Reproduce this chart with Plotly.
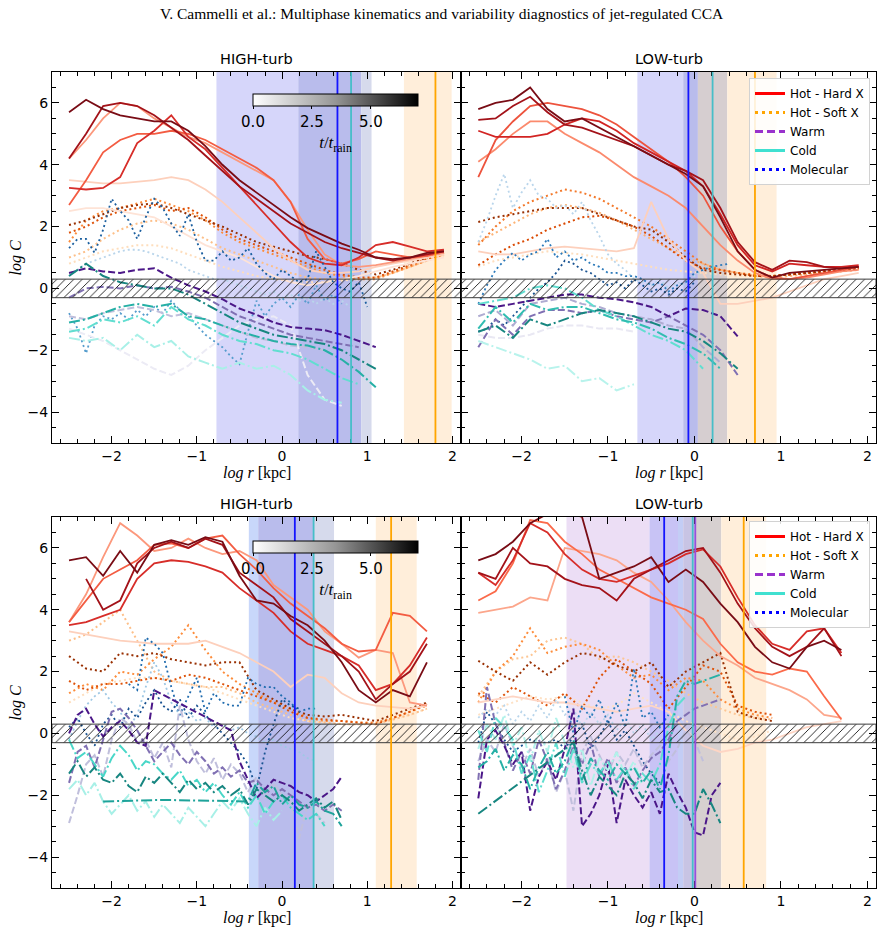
import plotly.graph_objects as go

TITLE = "V. Cammelli et al.: Multiphase kinematics and variability diagnostics of jet-regulated CCA"
PANEL_TITLES = ["HIGH-turb", "LOW-turb", "HIGH-turb", "LOW-turb"]
XLIM = [-2.7, 2.1]
YLIM = [-5.0, 7.0]
HATCH = [-0.3, 0.3]
T_MAX = 7.0
CB_TICKS = [0.0, 2.5, 5.0]
CB_TEXT = ["0.0", "2.5", "5.0"]
LEGEND_NAMES = ["Hot - Hard X", "Hot - Soft X", "Warm", "Cold", "Molecular"]

# radial grids (log r [kpc])
R_C = [-2.5, -2.3, -2.1, -1.9, -1.7, -1.5, -1.3, -1.1, -0.9, -0.7, -0.5, -0.3,
       -0.1, 0.1, 0.3, 0.5, 0.7, 0.9, 1.1, 1.3, 1.5, 1.7, 1.9]
R_F = [-2.5, -2.4, -2.3, -2.2, -2.1, -2.0, -1.9, -1.8, -1.7, -1.6, -1.5, -1.4,
       -1.3, -1.2, -1.1, -1.0, -0.9, -0.8, -0.7, -0.6, -0.5, -0.4, -0.3, -0.2,
       -0.1, 0.0, 0.1, 0.2, 0.3, 0.4, 0.5, 0.6, 0.7, 0.8, 0.9, 1.0]

# ---------------- TOP-LEFT (HIGH-turb) : (t/t_rain, log C) ----------------
TL_HOT = [
    (0.3, [2.5, 2.6, 2.6, 2.5, 2.4, 2.3, 2.0, 1.7, 1.4, 1.2, 1.0, 0.7, 0.4, 0.2, 0.1, 0.2, 0.3, 0.4, 0.55, 0.7, 0.8, 0.9, 1.0]),
    (1.0, [3.5, 3.45, 3.4, 3.4, 3.45, 3.5, 3.6, 3.5, 3.2, 2.8, 2.3, 1.8, 1.3, 0.9, 0.6, 0.5, 0.5, 0.55, 0.7, 0.8, 0.9, 1.0, 1.1]),
    (2.5, [4.2, 4.8, 5.5, 6.0, 5.9, 5.5, 5.2, 4.9, 4.7, 4.4, 4.1, 3.8, 3.5, 2.8, 1.9, 1.1, 0.75, 0.7, 0.75, 0.85, 0.95, 1.05, 1.15]),
    (3.8, [2.7, 3.5, 4.4, 4.8, 5.0, 5.0, 5.1, 5.0, 4.8, 4.5, 4.2, 3.9, 3.5, 2.8, 1.6, 0.95, 0.8, 0.95, 1.2, 1.1, 1.0, 1.05, 1.2]),
    (4.8, [3.25, 3.2, 3.25, 3.6, 4.7, 5.1, 5.6, 4.9, 4.5, 3.9, 3.3, 2.7, 2.1, 1.5, 1.0, 0.8, 0.75, 1.0, 1.4, 1.5, 1.35, 1.2, 1.25]),
    (6.0, [4.2, 5.0, 5.9, 6.0, 5.9, 5.6, 5.2, 4.8, 4.3, 3.8, 3.3, 2.9, 2.5, 2.1, 1.8, 1.5, 1.3, 1.15, 1.0, 0.9, 1.0, 1.1, 1.2]),
    (6.8, [5.7, 6.1, 5.8, 5.6, 5.5, 5.4, 5.4, 5.1, 4.6, 4.0, 3.5, 3.1, 2.7, 2.3, 1.95, 1.7, 1.45, 1.25, 1.0, 0.95, 1.0, 1.15, 1.2]),
]
TL_SOFT = [
    (1.0, [0.8, 1.0, 1.2, 1.3, 1.4, 1.4, 1.3, 1.1, 0.9, 0.7, 0.55, 0.4, 0.3, 0.25, 0.2, 0.2, 0.25, 0.3, 0.35, 0.5, 0.7, 0.9, 1.05]),
    (2.2, [1.0, 1.2, 1.6, 1.9, 2.1, 2.2, 2.1, 1.9, 1.6, 1.3, 1.1, 0.9, 0.7, 0.5, 0.35, 0.3, 0.3, 0.3, 0.35, 0.5, 0.7, 0.9, 1.1]),
    (3.5, [1.5, 2.2, 2.5, 2.6, 2.75, 2.9, 2.7, 2.5, 2.2, 1.8, 1.5, 1.3, 1.1, 0.9, 0.7, 0.5, 0.4, 0.3, 0.3, 0.5, 0.7, 0.9, 1.1]),
    (5.0, [1.8, 2.0, 2.3, 2.5, 2.6, 2.7, 2.5, 2.6, 2.3, 1.9, 1.6, 1.4, 1.2, 1.0, 0.8, 0.6, 0.45, 0.35, 0.35, 0.55, 0.75, 0.95, 1.15]),
    (6.5, [2.05, 2.2, 2.4, 2.6, 2.7, 2.75, 2.6, 2.4, 2.2, 2.0, 1.75, 1.5, 1.35, 1.2, 1.05, 0.95, 0.8, 0.6, 0.45, 0.6, 0.8, 1.0, 1.2]),
]
TL_WARM = [
    (0.6, [-1.3, -1.5, -1.7, -2.0, -2.3, -2.6, -2.8, -2.5, -2.0, -1.6, -1.2, -1.0, -0.9, -1.2, -2.8, -3.6, -3.8]),
    (2.5, [-0.9, -1.0, -0.8, -0.7, -0.6, -0.7, -0.9, -0.8, -1.0, -1.2, -1.4, -1.6, -1.7, -1.85, -1.9, -2.0]),
    (4.5, [-0.3, 0.0, 0.05, 0.0, 0.1, 0.0, 0.05, -0.1, -0.3, -0.6, -0.9, -1.1, -1.3, -1.5, -1.6, -1.7, -1.8, -1.9]),
    (6.5, [0.5, 0.65, 0.55, 0.5, 0.6, 0.65, 0.35, 0.1, -0.1, -0.35, -0.65, -0.85, -1.1, -1.25, -1.3, -1.35, -1.5, -1.7, -1.9]),
]
TL_COLD = [
    (1.5, [-1.6, -1.7, -1.6, -2.0, -1.5, -1.9, -1.7, -2.2, -2.4, -2.6, -2.4, -2.6, -2.5, -2.8, -3.3, -3.6, -3.7]),
    (3.0, [-1.4, -1.3, -1.0, -1.1, -0.9, -1.2, -0.6, -1.0, -1.2, -1.5, -1.7, -1.8, -2.0, -2.1, -2.3, -2.6, -2.9, -3.1]),
    (5.0, [-1.1, -1.0, -0.8, -0.6, -0.5, -0.6, -0.5, -0.9, -1.0, -1.2, -1.4, -1.55, -1.7, -1.8, -1.85, -2.0, -2.3, -2.7, -3.2]),
    (6.5, [0.4, 0.8, 0.4, 0.2, 0.1, 0.0, 0.0, -0.2, -0.5, -0.8, -1.1, -1.3, -1.5, -1.6, -1.7, -1.8, -2.0, -2.3, -2.6]),
]
TL_MOL = [
    (2.0, [0.4, 0.6, 0.8, 0.9, 1.0, 1.1, 1.2, 1.25, 1.25, 1.2, 1.1, 1.0, 0.9, 0.8, 0.6, 0.5, 0.4, 0.3, 0.3, 0.2, 0.1, 0.0, -0.1, -0.2, -0.1, -0.3, -0.2, -0.4, -0.3, -0.5, -0.3, -0.5, -0.4, -0.6]),
    (4.0, [-0.8, -1.3, -2.1, -1.2, -0.9, -1.0, -0.8, -1.0, -0.7, -0.9, -0.6, -0.8, -0.4, -0.7, -0.9, -1.2, -1.5, -1.7, -1.9, -2.2, -2.45, -1.4, -0.4, -0.9, -0.5, -0.3, -0.6, -0.2, -0.5, 0.1, -0.4, -0.2, -0.5]),
    (6.0, [1.3, 1.6, 1.6, 1.15, 1.9, 2.9, 2.5, 2.2, 1.6, 2.3, 2.9, 2.6, 2.1, 1.7, 2.4, 1.5, 0.9, 0.9, 1.2, 0.9, 1.0, 1.3, 0.8, 0.5, 0.3, 0.6, 0.4, 0.2, 0.3, 1.2, 0.7, 0.2, 0.0, -0.1, 0.2, -0.6]),
]

# ---------------- TOP-RIGHT (LOW-turb) ----------------
TR_HOT = [
    (1.0, [1.2, 1.1, 1.1, 1.2, 1.3, 1.35, 1.3, 1.25, 1.2, 1.3, 2.8, 1.6, 0.9, 0.5, -0.5, -0.5, -0.4, -0.3, -0.1, 0.1, 0.3, 0.4, 0.5]),
    (2.8, [4.1, 4.5, 5.0, 5.4, 5.4, 5.0, 4.7, 4.4, 4.0, 3.6, 3.3, 3.0, 2.6, 2.0, 1.4, 0.9, 0.5, 0.3, 0.3, 0.35, 0.45, 0.55, 0.6]),
    (4.0, [3.6, 4.8, 5.4, 5.9, 6.0, 5.9, 5.8, 5.6, 5.3, 4.9, 4.5, 4.1, 3.6, 3.0, 2.0, 1.2, 0.6, 0.35, 0.3, 0.4, 0.5, 0.6, 0.7]),
    (5.0, [5.1, 4.9, 4.9, 4.9, 5.0, 5.3, 5.5, 5.4, 5.1, 4.7, 4.4, 4.1, 3.8, 3.3, 2.4, 1.4, 0.75, 0.55, 0.8, 0.75, 0.7, 0.7, 0.75]),
    (6.0, [5.45, 5.5, 5.9, 6.2, 5.7, 5.3, 5.2, 5.0, 4.8, 4.6, 4.3, 4.0, 3.8, 3.5, 2.6, 1.5, 0.85, 0.6, 0.9, 0.85, 0.7, 0.65, 0.7]),
    (6.8, [5.8, 6.0, 6.1, 6.5, 5.8, 5.4, 5.5, 5.2, 4.9, 4.6, 4.3, 4.0, 3.7, 3.3, 2.3, 1.2, 0.6, 0.35, 0.5, 0.55, 0.6, 0.65, 0.7]),
]
TR_SOFT = [
    (1.0, [0.7, 0.9, 1.0, 1.1, 1.2, 1.15, 1.1, 1.0, 0.9, 0.8, 0.7, 0.6, 0.55, 0.5, 0.45, 0.4, 0.4, 0.35, 0.4, 0.45, 0.5, 0.55, 0.6]),
    (2.5, [1.5, 1.8, 2.1, 2.4, 2.6, 2.7, 2.6, 2.45, 2.2, 1.9, 1.6, 1.3, 1.0, 0.8, 0.6, 0.5, 0.4, 0.35, 0.4, 0.45, 0.5, 0.55, 0.6]),
    (4.0, [1.4, 2.0, 2.5, 2.8, 3.0, 3.2, 3.1, 2.9, 2.6, 2.3, 2.0, 1.6, 1.2, 0.8, 0.6, 0.5, 0.45, 0.4, 0.45, 0.5, 0.55, 0.6, 0.65]),
    (5.2, [0.75, 1.1, 1.4, 1.6, 1.9, 2.1, 2.3, 2.35, 2.2, 2.0, 1.7, 1.3, 0.9, 0.65, 0.6, 0.5, 0.4, 0.4, 0.45, 0.5, 0.55, 0.6, 0.65]),
    (6.5, [2.15, 2.3, 2.4, 2.5, 2.6, 2.6, 2.6, 2.4, 2.2, 2.0, 1.9, 1.5, 1.0, 0.6, 0.5, 0.45, 0.4, 0.4, 0.45, 0.5, 0.55, 0.6, 0.65]),
]
TR_WARM = [
    (0.8, [-1.5, -1.6, -1.6, -1.5, -1.3, -1.2, -1.2, -1.3, -1.3, -1.4]),
    (3.0, [-0.9, -0.7, -1.2, -0.5, -0.4, -0.3, -0.5, -0.6, -0.8, -0.9, -1.0, -1.2, -1.3, -1.9, -2.4]),
    (4.5, [-1.9, -1.0, -1.5, -0.9, -0.7, -0.7, -0.8, -0.7, -0.9, -1.0, -1.1, -0.9, -1.2, -1.5, -2.0, -2.8]),
    (6.5, [-0.5, -0.6, -0.5, -0.4, -0.3, -0.2, -0.2, -0.3, -0.35, -0.45, -0.6, -0.9, -0.65, -0.7, -0.9, -1.55]),
]
TR_COLD = [
    (1.0, [-1.7, -1.9, -2.1, -2.3, -2.6, -2.5, -3.0, -2.9, -3.3, -3.1]),
    (3.0, [-0.5, -0.4, -0.3, 0.0, 0.1, 0.0, -0.3, -0.7, -0.9, -1.2, -1.5, -1.7, -2.0, -2.6]),
    (4.5, [-1.3, -0.6, -1.1, -0.5, -0.7, -0.6, -0.6, -0.8, -1.0, -1.1, -1.3, -1.6, -1.8, -2.1, -2.6]),
    (6.5, [-1.4, -1.2, -1.6, -1.0, -1.2, -1.0, -0.8, -0.7, -0.8, -0.9, -1.1, -1.3, -1.4, -1.7, -2.1, -2.6]),
]
TR_MOL = [
    (2.0, [1.5, 2.2, 3.0, 3.7, 2.6, 3.1, 3.5, 3.0, 2.9, 2.6, 2.7, 2.4, 2.8, 2.2, 1.7, 1.1, 0.8, 0.6, 0.3, 0.2, 0.1, 0.3, 0.0, 0.2, 0.1, 0.4, 0.6, 1.0]),
    (5.0, [-0.5, 0.1, 0.6, 0.9, 1.15, 0.9, 1.1, 1.2, 1.6, 1.0, 1.2, 0.9, 1.0, 0.8, 0.7, 0.5, 0.5, 0.4, 0.4, 0.3, 0.1, 0.2, -0.1, 0.1, 0.2, 0.5, 0.6, 0.7, 0.75, 0.8]),
    (6.5, [-1.4, -1.3, -1.0, -1.2, -0.9, -0.6, -0.3, 0.0, 0.2, 0.5, 0.9, 0.8, 0.6, 0.5, 0.3, 0.1, 0.2, 0.0, 0.3, 0.1, -0.1, 0.0, -0.2, 0.0, -0.1, 0.2]),
]

# ---------------- BOTTOM-LEFT (HIGH-turb) ----------------
BL_HOT = [
    (1.0, [3.3, 3.2, 3.1, 3.0, 2.95, 2.9, 2.9, 2.9, 3.0, 2.8, 2.6, 2.3, 2.0, 1.5, 1.9, 1.8, 1.3, 1.0, 0.9, 0.85, 0.8, 0.9]),
    (2.5, [3.6, 4.5, 5.7, 6.8, 6.4, 5.9, 6.0, 6.3, 6.0, 5.8, 5.9, 5.6, 4.8, 4.4, 4.0, 3.3, 2.9, 2.45, 2.7, 2.6, 1.0, 0.9]),
    (3.8, [3.6, 4.3, 5.0, 5.3, 5.6, 6.1, 6.15, 6.0, 6.3, 6.4, 5.8, 5.3, 4.7, 4.2, 3.8, 3.4, 2.9, 2.65, 2.7, 3.9, 3.8, 3.3]),
    (4.8, [3.5, 3.6, 3.8, 4.0, 5.0, 5.5, 5.6, 5.55, 5.4, 5.2, 4.7, 4.3, 3.9, 3.3, 2.9, 2.7, 2.5, 2.2, 1.4, 1.6, 2.2, 3.1]),
    (6.0, [None, 5.0, 4.0, 4.3, 5.5, 6.0, 6.2, 6.0, 6.3, 6.1, 5.2, 4.8, 4.4, 3.7, 3.3, 2.9, 2.5, 2.0, 1.1, 1.6, 2.0, 2.9]),
    (6.8, [5.6, 5.7, 5.1, 5.9, 5.2, 6.1, 6.25, 6.1, 6.35, 6.2, 5.1, 4.3, 4.2, 3.8, 3.5, 3.0, 2.3, 1.4, 1.0, 1.4, 1.2, 2.3]),
]
BL_SOFT = [
    (1.0, [1.0, 1.3, 1.6, 1.7, 1.8, 1.8, 1.7, 1.6, 1.5, 1.3, 1.1, 0.9, 0.7, 0.5, 0.4, 0.35, 0.3, 0.3, 0.35, 0.45, 0.6, 0.8]),
    (2.2, [3.0, 3.2, 3.6, 4.0, 3.0, 2.0, 1.7, 1.6, 1.5, 1.5, 1.3, 1.0, 0.8, 0.6, 0.4, 0.35, 0.3, 0.3, 0.3, 0.45, 0.6, 0.8]),
    (3.5, [1.3, 1.6, 1.4, 2.0, 1.9, 2.4, 2.8, 3.5, 2.7, 2.0, 1.6, 1.3, 1.0, 0.8, 0.5, 0.4, 0.4, 0.35, 0.35, 0.5, 0.7, 0.9]),
    (5.0, [1.7, 1.4, 1.6, 1.6, 1.7, 1.8, 1.7, 1.9, 1.8, 1.6, 1.4, 1.2, 1.0, 0.7, 0.5, 0.45, 0.4, 0.35, 0.3, 0.5, 0.7, 0.95]),
    (6.5, [2.5, 2.1, 2.0, 2.6, 2.5, 2.6, 2.4, 2.3, 2.2, 2.3, 2.3, 1.4, 1.1, 0.8, 0.6, 0.55, 0.6, 0.5, 0.4, 0.6, 0.8, 1.0]),
]
BL_WARM = [
    (2.5, [-2.9, -2.0, -1.0, -0.7, -1.4, -0.2, 0.5, 0.3, -0.3, -0.2, -0.8, -0.3, -1.1, 0.9, -0.2, -0.9, -1.3, -0.8, -1.5, -1.0, -1.3, -1.9, -1.4, -2.1, -1.6, -2.0, -2.2, -3.4, -2.3, -2.6, -2.9]),
    (4.5, [-1.6, -0.6, -0.4, -1.1, -0.2, 0.7, 0.8, 0.5, 0.1, -0.4, -0.9, -0.6, -0.3, -0.7, -1.0, -0.6, -0.9, -1.3, -1.1, -1.4, -1.2, -1.6, -1.5, -1.8, -2.0, -1.8, -2.0, -2.2, -2.4, -2.3, -2.5, -2.3, -2.5]),
    (6.5, [0.0, 0.6, 0.8, 0.3, -0.1, 0.2, 0.4, 0.1, -0.3, -0.4, 1.4, None, None, None, None, None, None, None, None, 0.1, -0.9, -1.5, -2.1, -1.8, -1.5, -1.6, -1.7, -1.9, -2.0, -2.2, -2.0, -1.8, -1.4]),
]
BL_COLD = [
    (1.5, [-1.8, -1.5, -2.0, -1.6, -2.2, -2.6, -2.3, -2.0, -2.5, -2.2, -2.7, -2.3, -2.6, -2.9, -2.4, -2.7, -3.0, -2.6, -2.2, -2.5, -2.1, -2.6, -3.0, -2.4, -2.8, -2.5]),
    (3.5, [-0.2, -0.8, -0.6, -1.0, -1.4, -0.8, -0.4, -0.7, -1.2, -0.9, -1.0, -1.3, -1.5, -1.2, -1.7, -1.5, -1.9, -1.6, -2.0, -2.3, -1.9, -2.4, -2.0, -2.6, -2.2, -2.0, -2.4, -2.6, -2.8, -2.6, -3.0]),
    (5.5, [None, None, None, None, -2.2, None, None, None, None, None, None, -2.15, None, None, None, None, None, None, None, None, None, -2.2, -1.6, -1.9, -1.7, -2.3, -2.0, -2.3, -2.4, -2.2, -2.5, -2.6, -3.0]),
    (6.5, [-1.3, -0.9, -1.4, -1.1, -1.5, -1.6, -1.3, -1.7, -1.9, -1.4, -1.6, -1.3, -1.6, -1.9, -1.5, -1.8, -1.6, -1.9, -1.7, -2.0, -1.8, -2.3, -1.8, -2.0, -2.2, -2.0, -2.2, -2.5, -2.3, -2.1, -2.4, -2.2, -2.8]),
]
BL_MOL = [
    (2.5, [-0.2, 0.4, 0.9, 1.2, 1.4, 1.0, 0.7, 0.2, 0.6, 1.5, 2.3, 1.8, 1.0, 0.6, 0.7, 0.4, 0.5, 0.2, 0.3, 0.1, 0.2, 0.0, -0.1, -0.3, -0.2, -0.4, -0.5, -0.6, -0.8, -0.9]),
    (5.5, [None, None, None, None, None, None, None, 1.6, 1.4, 3.1, 2.9, 2.6, 1.5, 0.6, 1.2, 1.8, 0.7, 1.3, 1.0, 0.9, 0.9, 1.8, 1.6, 1.5, 1.5, 1.2, 1.0, 0.7, 0.8, 0.8]),
    (6.5, [0.2, 0.5, 0.0, -0.4, 0.3, 0.6, 0.2, 0.8, 0.5, 1.0, 1.4, 0.9, 0.7, 1.1, 0.5, 0.9, 0.6, 0.3, 0.0, -0.3, -0.6, -1.0, -1.8, -0.6, 0.3, 1.1, 0.9, 0.8]),
]

# ---------------- BOTTOM-RIGHT (LOW-turb) ----------------
BR_HOT = [
    (0.8, [1.0, 1.1, 1.2, 1.1, 1.0, 1.0, 0.9, 0.8, 0.7, 0.8, 0.9, 0.7, 0.1, -0.4, -0.6, -0.5, -0.3, -0.2, 0.0, 0.2, 0.3, 0.4]),
    (2.2, [3.9, 4.0, 4.1, 4.4, 4.3, 6.0, 5.9, 5.8, 5.6, 5.2, 4.9, 4.3, 3.6, 3.0, 2.5, 2.2, 1.8, 1.6, 1.4, 1.1, 0.6, 0.5]),
    (3.5, [4.3, 4.6, 5.5, 6.9, 6.8, 6.2, 5.8, 5.3, 5.0, 4.7, 4.4, 4.2, 4.0, 3.7, 2.9, 2.3, 2.0, 1.9, 2.1, 2.0, 1.2, 0.45]),
    (4.8, [5.2, 4.8, 5.6, 6.8, 6.5, 5.8, 5.3, 5.0, 4.9, 5.1, 5.3, 5.5, 5.8, 5.95, 5.4, 4.4, 3.5, 2.9, 2.7, 3.3, 3.4, 2.6]),
    (6.0, [5.2, 5.0, 6.0, 5.5, 5.4, 5.0, 4.8, 4.7, 4.3, 5.0, 5.3, 5.6, 5.9, 6.0, 5.2, 4.2, 3.4, 2.8, 2.5, 2.8, 3.4, 2.5]),
    (6.8, [5.6, 5.8, 6.2, 6.8, 7.1, 7.2, 7.0, 5.0, 5.2, 5.4, 5.7, 4.9, 5.3, 4.9, 4.2, 3.6, 2.8, 2.3, 2.1, 2.8, 3.0, 2.7]),
]
BR_SOFT = [
    (0.8, [0.6, 0.8, 1.0, 1.2, 1.1, 1.2, 1.0, 0.8, 0.9, 1.3, 1.0, 0.7, 0.4, 0.2, 0.0, -0.2, -0.1, 0.1]),
    (2.0, [1.2, 2.0, 2.4, 2.5, 3.0, 3.1, 2.9, 2.4, 2.5, 2.3, 2.0, 1.7, 1.3, 1.0, 0.8, 0.6, 0.5, 0.45]),
    (3.5, [1.0, 2.0, 2.5, 3.4, 2.6, 2.8, 2.9, 2.7, 2.2, 1.8, 1.9, 1.4, 1.8, 1.7, 1.1, 0.8, 0.6, 0.5]),
    (5.0, [1.3, 1.0, 1.5, 1.2, 0.9, 1.3, 0.8, 1.8, 2.4, 2.0, 1.6, 0.8, 1.5, 2.2, 2.0, 0.9, 0.7, 0.6]),
    (6.5, [2.35, 2.0, 1.7, 2.3, 1.9, 2.3, 2.6, 2.5, 2.2, 2.0, 2.3, 1.5, 2.0, 2.3, 2.6, 0.7, 0.5, 0.4]),
]
BR_WARM = [
    (2.5, [-0.9, -0.2, -0.6, 0.3, -0.4, -1.1, -0.5, -1.4, -0.8, -1.9, -1.2, -2.5, -0.6, -0.1, -0.7, -1.3, -0.6, -1.0, -0.5, -1.1, -0.7, -0.4, -0.9, -0.5, 0.1, -0.2, -0.9]),
    (4.5, [-1.5, 1.5, 0.3, -0.3, -1.2, -0.6, -1.3, -0.2, -0.9, -1.8, -1.2, -0.4, -1.0, -0.3, -1.4, -0.8, -1.6, -1.1, -1.7, -1.2, -0.8, -0.6, -0.2, 0.4, 0.6, 0.8, 0.9, 1.0, 1.1]),
    (6.5, [-2.1, -0.2, 0.1, -0.4, -1.0, -0.6, -2.5, -1.4, -0.9, -1.5, -0.5, 0.8, -3.0, -2.6, -2.0, -1.0, -2.9, -1.5, -2.0, -2.4, -1.9, -2.6, -1.3, -1.9, -2.4, -3.2, -3.3, -2.0, -1.6]),
]
BR_COLD = [
    (1.2, [-0.5, 0.3, -0.2, 0.6, -0.4, 0.2, -0.9, 0.1, -0.6, 0.5, -0.3, -1.1, -0.5, -1.7, -0.8, -1.2, -0.6, -1.4, -0.9, -1.7]),
    (3.0, [0.1, -0.6, 0.5, 0.2, -0.2, -1.3, -0.7, -1.9, -1.2, -0.3, -1.4, -0.5, -1.6, -1.0, -1.3, -0.9, -1.5, -1.1, -1.8, -1.3, -1.6, -1.0, 0.2, 0.9, 1.2]),
    (5.0, [-1.1, -0.9, -0.5, -1.2, -0.7, -1.0, -1.8, -1.1, -0.6, -1.3, -0.9, -0.2, -1.5, -0.8, -1.2, -1.5, -1.0, -1.3, -1.1, -1.6, -1.2, -1.8, -0.7, 1.2, 1.7, 1.6, 1.7, 1.8, 1.9]),
    (6.5, [-2.6, None, None, None, None, None, None, None, None, None, None, -0.3, -1.2, -2.0, -1.4, -1.7, -2.0, -1.3, -1.6, -2.1, -1.5, -1.9, -1.8, -2.4, -2.6, -2.6, -1.8, -2.3, -2.9]),
]
BR_MOL = [
    (2.0, [0.5, 0.8, 0.6, 0.9, 0.3, 0.7, 0.4, 0.9, 0.5, 1.1, 0.6, 0.8, 0.2, 0.7, 0.3, 0.6, 0.1, 0.5, 0.0, 0.3, -0.2, 0.1]),
    (5.0, [None, None, None, None, None, None, None, None, None, None, 1.2, 0.0, 0.9, 0.5, 1.1, 0.3, 1.0, 0.2, 2.1, 0.5, 0.7, 0.2, 0.6]),
    (6.5, [-0.3, 0.7, 0.3, -0.2, -0.6, -0.4, -0.2, -0.3, -0.3, -0.2, -0.5, -0.1, 0.3, -0.5, -0.1, 0.4, -0.2, 0.1, -0.4, -0.9, -1.3, -1.6]),
]

# shaded radial bands (x0, x1) and vertical markers (x) per panel
TL_BANDS = [(-0.77, 0.19, "rgb(214,214,250)"), (0.19, 0.93, "rgb(185,188,236)"),
            (0.93, 1.05, "rgb(214,218,236)"), (1.43, 1.99, "rgb(255,238,218)")]
TR_BANDS = [(-0.66, -0.13, "rgb(214,214,250)"), (-0.13, 0.04, "rgb(185,188,236)"),
            (0.04, 0.38, "rgb(214,206,208)"), (0.38, 0.95, "rgb(255,238,218)")]
BL_BANDS = [(-0.39, -0.28, "rgb(200,215,250)"), (-0.28, 0.37, "rgb(185,188,236)"),
            (0.37, 0.61, "rgb(214,218,236)"), (1.10, 1.58, "rgb(255,238,218)")]
BR_BANDS = [(-1.48, -0.52, "rgb(236,222,245)"), (-0.52, -0.19, "rgb(200,195,245)"),
            (-0.19, -0.13, "rgb(195,205,245)"), (-0.13, 0.01, "rgb(200,196,228)"),
            (0.01, 0.31, "rgb(215,208,208)"), (0.31, 0.83, "rgb(255,238,218)")]
TL_VLINES = [(0.65, "rgb(20,20,255)"), (0.81, "rgb(70,190,200)"), (1.80, "rgb(255,165,0)")]
TR_VLINES = [(-0.07, "rgb(20,20,255)"), (0.21, "rgb(70,190,200)"), (0.70, "rgb(255,165,0)")]
BL_VLINES = [(0.15, "rgb(20,20,255)"), (0.37, "rgb(70,190,200)"), (1.28, "rgb(255,165,0)")]
BR_VLINES = [(-0.35, "rgb(20,20,255)"), (-0.02, "rgb(70,190,200)"), (0.01, "rgb(150,80,220)"), (0.57, "rgb(255,165,0)")]

# ---------------- styling ----------------
CMAPS = {
    "hot": [(255, 235, 225), (252, 187, 161), (251, 106, 74), (203, 24, 29), (110, 10, 20)],
    "soft": [(255, 240, 225), (253, 208, 162), (253, 141, 60), (217, 72, 1), (127, 39, 4)],
    "warm": [(245, 244, 250), (218, 218, 235), (158, 154, 200), (106, 81, 163), (63, 0, 125)],
    "cold": [(215, 250, 246), (160, 238, 228), (72, 215, 200), (32, 170, 160), (20, 120, 115)],
    "mol": [(240, 246, 252), (198, 219, 239), (107, 174, 214), (33, 113, 181), (20, 70, 130)],
}
STYLES = {
    "hot": dict(width=1.8, dash="solid"),
    "soft": dict(width=2.0, dash="2px,3px"),
    "warm": dict(width=2.0, dash="7px,3px"),
    "cold": dict(width=2.0, dash="11px,3px,2px,3px"),
    "mol": dict(width=1.8, dash="2px,3px"),
}
LEGEND_STYLES = [
    dict(color="red", width=3, dash="solid"),
    dict(color="orange", width=3, dash="3px,4px"),
    dict(color="darkorchid", width=3, dash="8px,4px"),
    dict(color="turquoise", width=3, dash="solid"),
    dict(color="blue", width=3, dash="3px,4px"),
]


def cmap(name, t):
    stops = CMAPS[name]
    f = max(0.0, min(1.0, t / T_MAX))
    n = len(stops) - 1
    pos = f * n
    i = min(int(pos), n - 1)
    u = pos - i
    c = [stops[i][k] + (stops[i + 1][k] - stops[i][k]) * u for k in range(3)]
    return "rgb(%d,%d,%d)" % tuple(int(round(v)) for v in c)


PANELS = [
    dict(hot=TL_HOT, soft=TL_SOFT, warm=TL_WARM, cold=TL_COLD, mol=TL_MOL,
         grid=dict(hot=R_C, soft=R_C, warm=R_C, cold=R_C, mol=R_F), bands=TL_BANDS, vlines=TL_VLINES),
    dict(hot=TR_HOT, soft=TR_SOFT, warm=TR_WARM, cold=TR_COLD, mol=TR_MOL,
         grid=dict(hot=R_C, soft=R_C, warm=R_C, cold=R_C, mol=R_F), bands=TR_BANDS, vlines=TR_VLINES),
    dict(hot=BL_HOT, soft=BL_SOFT, warm=BL_WARM, cold=BL_COLD, mol=BL_MOL,
         grid=dict(hot=R_C, soft=R_C, warm=R_F, cold=R_F, mol=R_F), bands=BL_BANDS, vlines=BL_VLINES),
    dict(hot=BR_HOT, soft=BR_SOFT, warm=BR_WARM, cold=BR_COLD, mol=BR_MOL,
         grid=dict(hot=R_C, soft=R_C, warm=R_F, cold=R_F, mol=R_F), bands=BR_BANDS, vlines=BR_VLINES),
]

W, H = 883, 933
XDOM = [[52 / W, 461 / W], [461 / W, 876 / W], [52 / W, 461 / W], [461 / W, 876 / W]]
YDOM = [[1 - 443 / H, 1 - 72 / H], [1 - 443 / H, 1 - 72 / H], [1 - 888 / H, 1 - 517 / H], [1 - 888 / H, 1 - 517 / H]]

fig = go.Figure()
shapes = []
annotations = []
TICKFONT = dict(family="DejaVu Sans", size=14, color="black")
SERIF = "Liberation Serif, Times New Roman, serif"

for p, P in enumerate(PANELS):
    sx = "" if p == 0 else str(p + 1)
    xa, ya = "x" + sx, "y" + sx
    # bands
    for (x0, x1, col) in P["bands"]:
        shapes.append(dict(type="rect", xref=xa, yref=ya + " domain", x0=x0, x1=x1, y0=0, y1=1,
                           fillcolor=col, line=dict(width=0), layer="below"))
    # curves
    for cat in ["soft", "hot", "mol", "warm", "cold"]:
        grid = P["grid"][cat]
        for (t, ys) in P[cat]:
            fig.add_trace(go.Scatter(
                x=grid[:len(ys)], y=ys, mode="lines", connectgaps=True,
                line=dict(color=cmap(cat, t), width=STYLES[cat]["width"], dash=STYLES[cat]["dash"]),
                showlegend=False, hoverinfo="skip", xaxis=xa, yaxis=ya))
    # hatched band
    fig.add_trace(go.Scatter(
        x=[XLIM[0], XLIM[1], XLIM[1], XLIM[0], XLIM[0]],
        y=[HATCH[0], HATCH[0], HATCH[1], HATCH[1], HATCH[0]],
        mode="lines", fill="toself", fillcolor="rgba(0,0,0,0)",
        fillpattern=dict(shape="/", fgcolor="black", bgcolor="rgba(0,0,0,0)", size=6, solidity=0.15,
                         fgopacity=0.9),
        line=dict(color="rgb(60,60,60)", width=1), showlegend=False, hoverinfo="skip",
        xaxis=xa, yaxis=ya))
    # vertical markers
    for (xv, col) in P["vlines"]:
        shapes.append(dict(type="line", xref=xa, yref=ya + " domain", x0=xv, x1=xv, y0=0, y1=1,
                           line=dict(color=col, width=1.8), layer="above"))

    fig.layout["xaxis" + sx] = dict(
        domain=XDOM[p], range=XLIM, anchor=ya, showline=True, linecolor="black", linewidth=1.2,
        mirror="allticks", ticks="inside", ticklen=7, tickwidth=1, tickcolor="black",
        tick0=0, dtick=1, minor=dict(ticks="inside", ticklen=4, tick0=0, dtick=0.2, tickcolor="black"),
        showgrid=False, zeroline=False, tickfont=TICKFONT)
    fig.layout["yaxis" + sx] = dict(
        domain=YDOM[p], range=YLIM, anchor=xa, showline=True, linecolor="black", linewidth=1.2,
        mirror="allticks", ticks="inside", ticklen=7, tickwidth=1, tickcolor="black",
        tick0=0, dtick=2, minor=dict(ticks="inside", ticklen=4, tick0=0, dtick=0.5, tickcolor="black"),
        showgrid=False, zeroline=False, tickfont=TICKFONT, showticklabels=(p % 2 == 0))

    xc = (XDOM[p][0] + XDOM[p][1]) / 2
    annotations.append(dict(text=PANEL_TITLES[p], xref="paper", yref="paper", x=xc, y=YDOM[p][1] + 3 / H,
                            xanchor="center", yanchor="bottom", showarrow=False,
                            font=dict(family="DejaVu Sans", size=14.5, color="black")))
    annotations.append(dict(text="<i>log r</i> [kpc]", xref="paper", yref="paper", x=xc, y=YDOM[p][0] - 19 / H,
                            xanchor="center", yanchor="top", showarrow=False,
                            font=dict(family=SERIF, size=16, color="black")))
    if p % 2 == 0:
        yc = (YDOM[p][0] + YDOM[p][1]) / 2
        annotations.append(dict(text="<i>log C</i>", xref="paper", yref="paper", x=15 / W, y=yc,
                                xanchor="center", yanchor="middle", textangle=-90, showarrow=False,
                                font=dict(family=SERIF, size=16, color="black")))

# colorbars (insets in the left panels)
for p, cy in [(0, 100), (2, 547)]:
    sx = "" if p == 0 else str(p + 1)
    fig.add_trace(go.Scatter(
        x=[None], y=[None], mode="markers", showlegend=False, hoverinfo="skip",
        xaxis="x" + sx, yaxis="y" + sx,
        marker=dict(color=[0.0], cmin=0, cmax=T_MAX, showscale=True,
                    colorscale=[[0, "rgb(255,255,255)"], [0.5, "rgb(150,150,150)"], [1, "rgb(0,0,0)"]],
                    colorbar=dict(orientation="h", x=335.5 / W, xanchor="center",
                                  y=1 - (cy - 6) / H, yanchor="top", len=165 / W, lenmode="fraction",
                                  thickness=12, thicknessmode="pixels", outlinewidth=1, outlinecolor="black",
                                  xpad=0, ypad=0, tickvals=CB_TICKS, ticktext=CB_TEXT, ticks="outside",
                                  ticklen=3, tickcolor="black",
                                  tickfont=dict(family="DejaVu Sans", size=15, color="black"),
                                  title=dict(text="<i>t</i>/<i>t</i><sub>rain</sub>", side="bottom",
                                             font=dict(family=SERIF, size=17, color="black"))))))

# legends (right panels)
for lg, sx in [("legend", "2"), ("legend2", "4")]:
    for name, st in zip(LEGEND_NAMES, LEGEND_STYLES):
        fig.add_trace(go.Scatter(x=[None], y=[None], mode="lines", name=name, line=st,
                                 legend=lg, xaxis="x" + sx, yaxis="y" + sx, hoverinfo="skip"))

LEG = dict(x=749 / W, xanchor="left", yanchor="top", bgcolor="rgba(255,255,255,0.85)",
           bordercolor="rgb(210,210,210)", borderwidth=1, itemwidth=30, tracegroupgap=0,
           font=dict(family="DejaVu Sans", size=12, color="black"))

annotations.append(dict(text=TITLE, xref="paper", yref="paper", x=0.5, y=1 - 13 / H,
                        xanchor="center", yanchor="middle", showarrow=False,
                        font=dict(family=SERIF, size=15.5, color="black")))

fig.update_layout(
    width=W, height=H, autosize=False, margin=dict(l=0, r=0, t=0, b=0),
    paper_bgcolor="white", plot_bgcolor="rgba(0,0,0,0)",
    shapes=shapes, annotations=annotations,
    legend=dict(LEG, y=1 - 78 / H), legend2=dict(LEG, y=1 - 521 / H),
)

fig.write_html("out.html")
